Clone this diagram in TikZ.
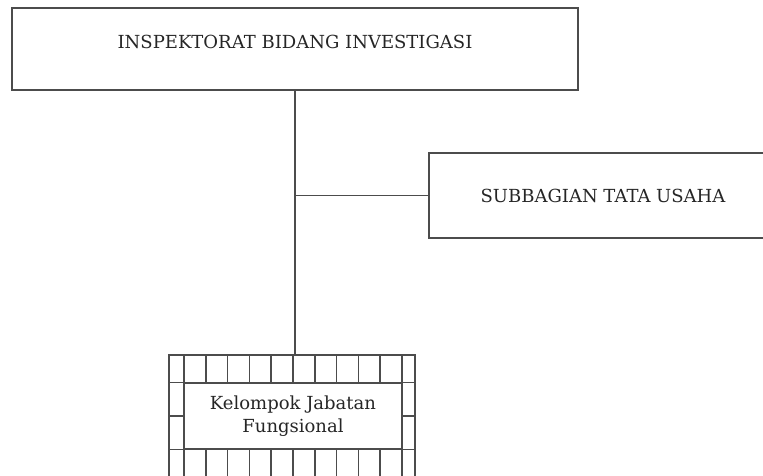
\documentclass[tikz,border=0pt]{standalone}
\usepackage{fontspec}
\setmainfont{DejaVu Serif}
\begin{document}
\begin{tikzpicture}[x=0.75pt,y=-0.75pt,line width=1.1pt,black!70,
  box/.style={draw=black!70,rectangle,inner sep=0pt},
  every node/.style={font=\fontsize{13.5}{17}\selectfont,text=black!85}]
\useasboundingbox (0,0) rectangle (763,475);

\node[box,minimum width=424.5pt,minimum height=61.5pt,
  label={[yshift=5pt]center:INSPEKTORAT BIDANG INVESTIGASI}] (insp) at (295,49) {};
\node[box,minimum width=261pt,minimum height=63.75pt] (sub) at (603,195.5) {SUBBAGIAN TATA USAHA};

% kelompok jabatan fungsional with tiled border
\node[box,minimum width=184.5pt,minimum height=91.5pt] (kelframe) at (292,416) {};
\node[box,minimum width=163.5pt,minimum height=49.5pt,align=center] (kel) at (293,416) {Kelompok Jabatan\\Fungsional};
\draw (kelframe.west |- kel.north) -- (kelframe.east |- kel.north);
\draw (kelframe.west |- kel.south) -- (kelframe.east |- kel.south);
\draw (kelframe.west) -- (kel.west);
\draw (kel.east) -- (kelframe.east);
\foreach \k in {0,...,10}
  \draw ({184+21.8*\k},355) -- ++(0,28) ({184+21.8*\k},449) -- ++(0,28);

\draw (insp.south) -- (insp.south |- kelframe.north);
\draw (insp.south |- sub.west) -- (sub.west);
\end{tikzpicture}
\end{document}
